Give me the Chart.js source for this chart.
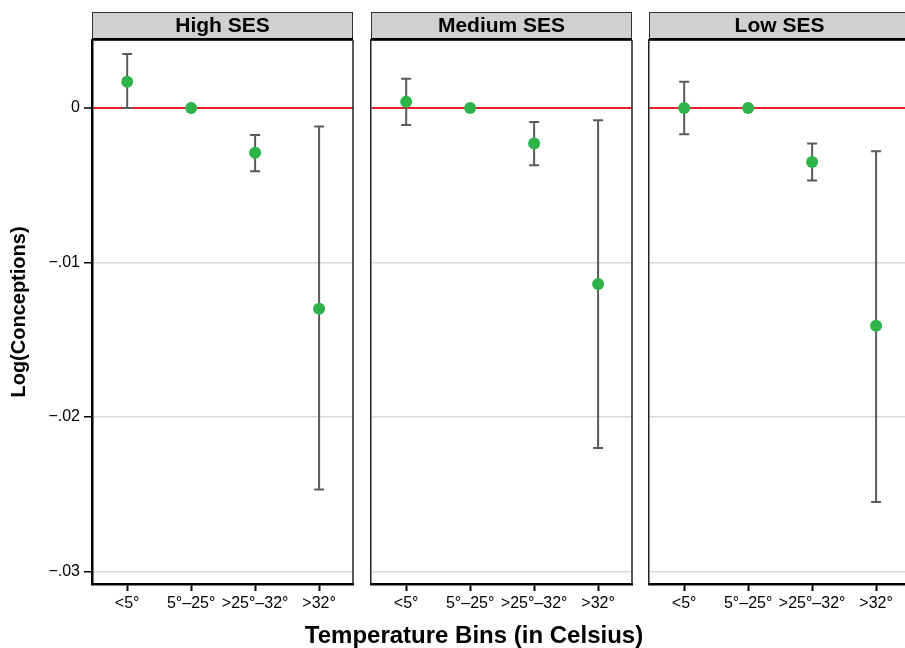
<!DOCTYPE html>
<html>
<head>
<meta charset="utf-8">
<script src="https://cdn.jsdelivr.net/npm/chart.js@4.4.1/dist/chart.umd.min.js"></script>
<style>
  body { margin: 0; background: #fff; overflow: hidden; width: 905px; height: 648px; position: relative; }
  canvas { position: absolute; top: 0; }
  #xtitle {
    position: absolute; left: 174px; width: 600px; top: 621px;
    text-align: center; font: bold 24px "Liberation Sans", Arial, sans-serif; line-height: 27px; color: #000;
  }
</style>
</head>
<body>
<canvas id="c1" width="360" height="648" style="left:0px"></canvas>
<canvas id="c2" width="278" height="648" style="left:362px"></canvas>
<canvas id="c3" width="280" height="648" style="left:640px"></canvas>
<div id="xtitle">Temperature Bins (in Celsius)</div>
<script>
const bins = ["<5°", "5°–25°", ">25°–32°", ">32°"];
const panelNames = ["High SES", "Medium SES", "Low SES"];
const yTicks = [0, -0.01, -0.02, -0.03];

// point estimates and 95% CI per panel
const highEst = [0.0017, 0, -0.0029, -0.0130];
const highLo = [0.0000, 0, -0.0041, -0.0247];
const highHi = [0.0035, 0, -0.00175, -0.0012];

const medEst = [0.0004, 0, -0.0023, -0.0114];
const medLo = [-0.0011, 0, -0.0037, -0.0220];
const medHi = [0.0019, 0, -0.0009, -0.0008];

const lowEst = [0.0000, 0, -0.0035, -0.0141];
const lowLo = [-0.0017, 0, -0.0047, -0.0255];
const lowHi = [0.0017, 0, -0.0023, -0.0028];

const FONT = "'Liberation Sans', Arial, sans-serif";
const GREEN = "#2db34a";
const RED = "#e8202a";
const GRID = "#d9d9d9";

const errorBars = {
  id: "errorBars",
  beforeDatasetsDraw(chart) {
    const ds = chart.data.datasets[0];
    const x = chart.scales.x, y = chart.scales.y;
    const c = chart.ctx;
    c.save();
    c.strokeStyle = "#5a5a5a";
    c.lineWidth = 2;
    ds.data.forEach((p, i) => {
      const lo = ds.errLo[i], hi = ds.errHi[i];
      if (lo === hi) return;
      const px = x.getPixelForValue(p.x);
      const y1 = y.getPixelForValue(hi), y2 = y.getPixelForValue(lo);
      c.beginPath();
      c.moveTo(px, y1); c.lineTo(px, y2);
      c.moveTo(px - 5, y1); c.lineTo(px + 5, y1);
      c.moveTo(px - 5, y2); c.lineTo(px + 5, y2);
      c.stroke();
    });
    c.restore();
  }
};

const strip = {
  id: "strip",
  afterDraw(chart, args, opts) {
    const a = chart.chartArea;
    const c = chart.ctx;
    c.save();
    // right border of the panel
    c.strokeStyle = "#222";
    c.lineWidth = 1.5;
    c.beginPath();
    c.moveTo(a.right, a.top); c.lineTo(a.right, a.bottom);
    c.stroke();
    // facet header
    c.fillStyle = "#d0d0d0";
    c.fillRect(a.left, 12, a.right - a.left, a.top - 12);
    c.strokeStyle = "#333";
    c.lineWidth = 1;
    c.strokeRect(a.left + 0.5, 12.5, a.right - a.left - 1, a.top - 12);
    c.strokeStyle = "#000";
    c.lineWidth = 2;
    c.beginPath();
    c.moveTo(a.left, a.top - 1); c.lineTo(a.right, a.top - 1);
    c.stroke();
    c.fillStyle = "#000";
    c.font = "bold 21px " + FONT;
    c.textAlign = "center";
    c.textBaseline = "middle";
    c.fillText(opts.text, (a.left + a.right) / 2, 26);
    c.restore();
  }
};

function makePanel(id, idx, est, lo, hi, padLeft, padRight) {
  const first = idx === 0;
  return new Chart(document.getElementById(id), {
    type: "scatter",
    data: {
      datasets: [{
        data: est.map((v, i) => ({ x: i + 1, y: v })),
        errLo: lo,
        errHi: hi,
        pointRadius: 6,
        pointHoverRadius: 6,
        backgroundColor: GREEN,
        borderWidth: 0
      }]
    },
    options: {
      responsive: false,
      animation: false,
      devicePixelRatio: 1,
      layout: { padding: { top: 40, left: padLeft, right: padRight, bottom: 0 } },
      plugins: {
        legend: { display: false },
        tooltip: { enabled: false },
        strip: { text: panelNames[idx] }
      },
      scales: {
        x: {
          type: "linear",
          min: 0.45,
          max: 4.53,
          afterBuildTicks: (s) => { s.ticks = bins.map((b, i) => ({ value: i + 1 })); },
          afterFit: (s) => { s.height = 64; },
          ticks: {
            autoSkip: false,
            maxRotation: 0,
            padding: 3,
            color: "#000",
            font: { family: FONT, size: 16 },
            callback: (v) => bins[v - 1]
          },
          grid: { drawOnChartArea: false, drawTicks: true, tickLength: 7, tickColor: "#000", tickWidth: 2 },
          border: { display: true, color: "#000", width: 2.5 }
        },
        y: {
          min: -0.03081,
          max: 0.0044,
          afterBuildTicks: (s) => { s.ticks = yTicks.map((v) => ({ value: v })); },
          afterFit: (s) => { s.width = first ? 92 : 0; },
          ticks: {
            display: first,
            padding: 4,
            color: "#000",
            font: { family: FONT, size: 16 },
            callback: (v) => v === 0 ? "0" : "\u2212" + String(Math.abs(v)).replace("0.", ".")
          },
          grid: {
            drawTicks: first,
            tickLength: 8,
            tickColor: "#000",
            tickWidth: 1.5,
            color: (ctx) => ctx.tick && ctx.tick.value === 0 ? RED : GRID,
            lineWidth: (ctx) => ctx.tick && ctx.tick.value === 0 ? 2 : 1.5
          },
          border: first ? { display: true, color: "#000", width: 2.5 } : { display: true, color: "#222", width: 1.5 },
          title: {
            display: first,
            text: "Log(Conceptions)",
            color: "#000",
            font: { family: FONT, size: 20, weight: "bold" },
            padding: { top: 7, bottom: 0 }
          }
        }
      }
    },
    plugins: [errorBars, strip]
  });
}

makePanel("c1", 0, highEst, highLo, highHi, 0, 7);
makePanel("c2", 1, medEst, medLo, medHi, 9, 8);
makePanel("c3", 2, lowEst, lowLo, lowHi, 9, 10);
</script>
</body>
</html>
